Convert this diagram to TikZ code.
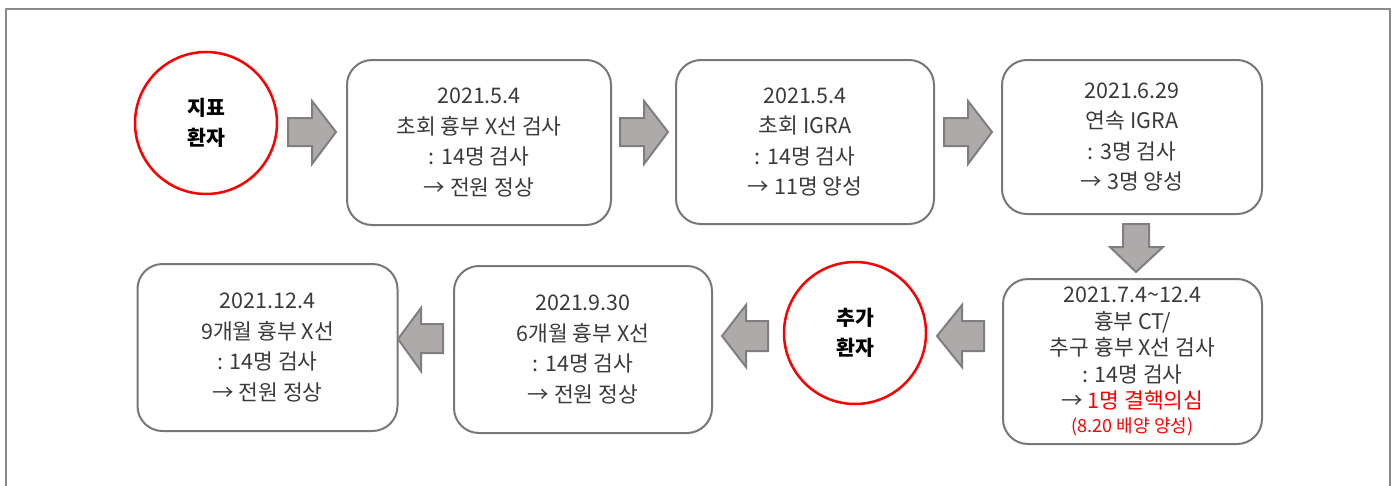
\documentclass[tikz,border=0pt]{standalone}
\usepackage{fontspec}
\setmainfont{Noto Sans CJK KR}
\definecolor{boxline}{HTML}{7A7676}
\definecolor{arrfill}{HTML}{AEAAAA}
\definecolor{arrline}{HTML}{7F7F7F}
\definecolor{txt}{HTML}{3A3A3A}
\definecolor{frame}{HTML}{8C8C8C}
\definecolor{myred}{HTML}{FF0000}
\tikzset{
  stepbox/.style={draw=boxline, line width=2pt, rounded corners=25pt, align=center,
    text=txt, font=\fontsize{21.5}{30.5}\selectfont, inner sep=0pt},
  patient/.style={circle, draw=myred, line width=2.5pt, align=center,
    font=\fontsize{20.5}{30}\selectfont\bfseries, text=black, inner sep=0pt},
  blockarrow/.style={draw=arrline, fill=arrfill, line width=2pt, line join=miter},
}
\begin{document}
\begin{tikzpicture}[x=1pt,y=-1pt]
\useasboundingbox (0,0) rectangle (1395,485);
% frame
\draw[frame, line width=1.5pt] (6,495) -- (6,9) -- (1390,9) -- (1390,495);

% top row
\node[patient, minimum size=142pt] (p1) at (206,123) {지표\\환자};
\node[stepbox, minimum width=264pt, minimum height=165pt] (b1) at (479,142.5)
  {2021.5.4\\초회 흉부 X선 검사\\: 14명 검사\\→ 전원 정상};
\node[stepbox, minimum width=258pt, minimum height=164pt] (b2) at (805,142)
  {2021.5.4\\초회 IGRA\\: 14명 검사\\→ 11명 양성};
\node[stepbox, minimum width=260pt, minimum height=154pt] (b3) at (1132,137)
  {2021.6.29\\연속 IGRA\\: 3명 검사\\→ 3명 양성};

% bottom row
\node[stepbox, minimum width=259pt, minimum height=165pt, font=\fontsize{21.5}{26.5}\selectfont] (b4) at (1132.5,361.5)
  {2021.7.4\textasciitilde12.4\\흉부 CT/\\추구 흉부 X선 검사\\: 14명 검사\\→ {\color{myred}1명 결핵의심}\\[-3pt]{\color{myred}\fontsize{18}{22}\selectfont(8.20 배양 양성)}};
\node[patient, minimum size=142pt] (p2) at (855,333) {추가\\환자};
\node[stepbox, minimum width=258pt, minimum height=167pt] (b5) at (583,349.5)
  {2021.9.30\\6개월 흉부 X선\\: 14명 검사\\→ 전원 정상};
\node[stepbox, minimum width=260pt, minimum height=167pt] (b6) at (267.5,347.5)
  {2021.12.4\\9개월 흉부 X선\\: 14명 검사\\→ 전원 정상};

% block arrows (right-pointing)
\foreach \cx in {312,644,968}{
  \draw[blockarrow] (\cx-24,118) -- (\cx,118) -- (\cx,101) -- (\cx+24,132) -- (\cx,164) -- (\cx,146) -- (\cx-24,146) -- cycle;
}
% down arrow
\draw[blockarrow] (1123,224) -- (1149,224) -- (1149,247) -- (1163,247) -- (1136,272) -- (1110,247) -- (1123,247) -- cycle;
% left arrows
\draw[blockarrow] (984,321) -- (962,321) -- (962,305) -- (937,336) -- (962,367) -- (962,351) -- (984,351) -- cycle;
\draw[blockarrow] (768,321) -- (746,321) -- (746,305) -- (722,336) -- (746,367) -- (746,351) -- (768,351) -- cycle;
\draw[blockarrow] (443,324) -- (421,324) -- (421,308) -- (398,339) -- (421,371) -- (421,353) -- (443,353) -- cycle;
\end{tikzpicture}
\end{document}
